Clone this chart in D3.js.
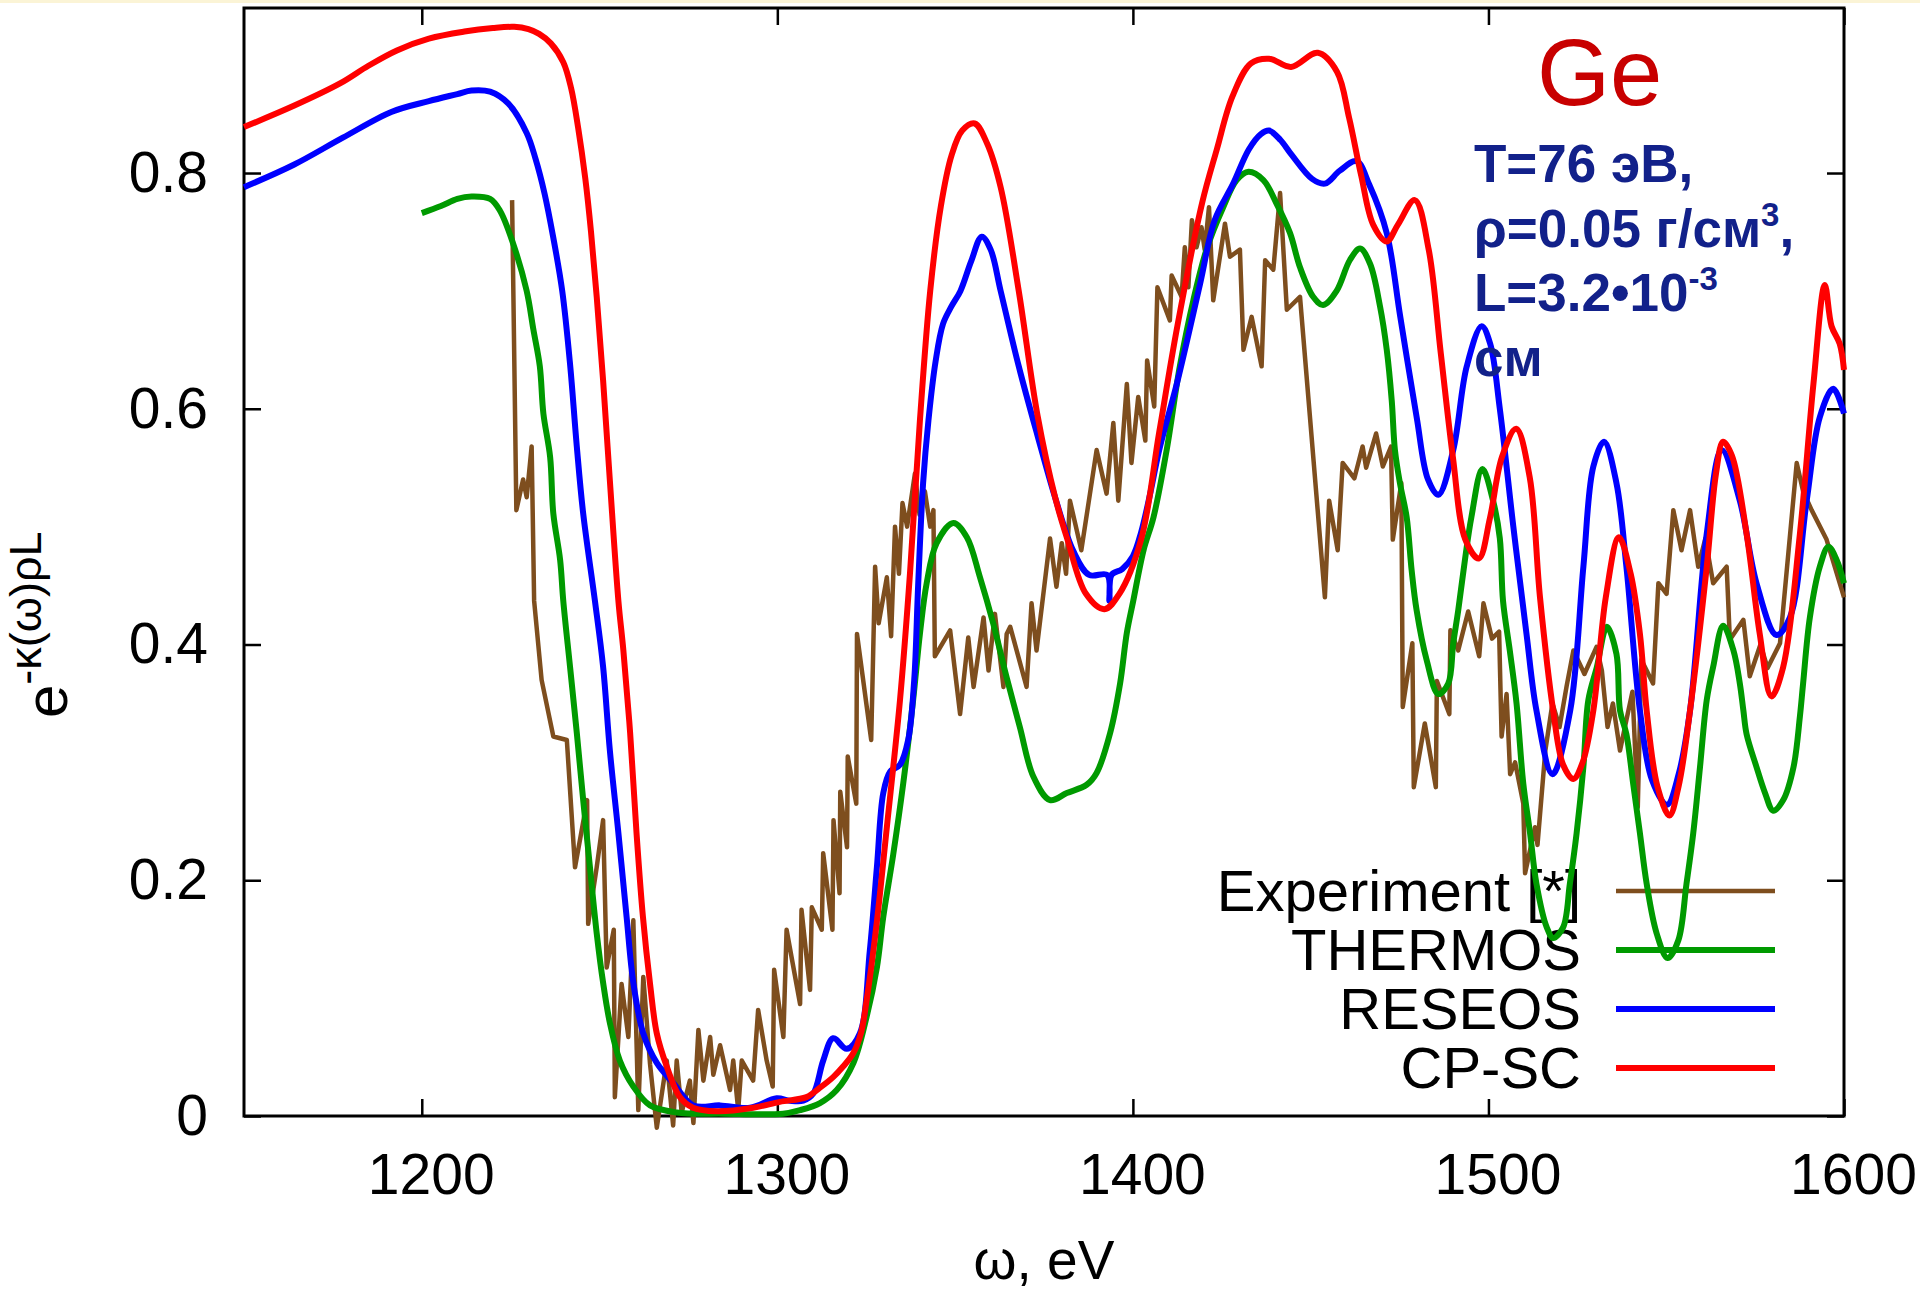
<!DOCTYPE html>
<html lang="ru">
<head>
<meta charset="UTF-8">
<title>Ge: e^-k(w)rhoL</title>
<script src="https://d3js.org/d3.v7.min.js"></script>
<style>
  html, body { margin: 0; background: #fff; }
  svg { display: block; font-family: "Liberation Sans", Arial, sans-serif; }
  .tick line { stroke: #000; stroke-width: 2.5px; }
  .tick text { fill: #000; }
</style>
</head>
<body>
<svg id="chart"></svg>
<script>
// ---- data ----
const xTickValues = [1200, 1300, 1400, 1500, 1600];
const yTickValues = [0, 0.2, 0.4, 0.6, 0.8];
const yTickLabels = ["0", "0.2", "0.4", "0.6", "0.8"];
const legendLabels = ["Experiment [*]", "THERMOS", "RESEOS", "CP-SC"];

const experiment = [[1225.4,0.777],[1226.6,0.514],[1228.5,0.54],[1229.5,0.525],[1230.9,0.568],[1231.6,0.437],[1233.7,0.37],[1237,0.322],[1240.8,0.319],[1243.1,0.211],[1246.5,0.268],[1246.8,0.163],[1249.2,0.211],[1251,0.251],[1252,0.126],[1254,0.158],[1254.3,0.016],[1256.2,0.112],[1258.1,0.067],[1259.5,0.166],[1260.9,0.005],[1262.3,0.118],[1264.2,0.044],[1266.1,-0.01],[1268.9,0.047],[1270.7,-0.008],[1271.7,0.047],[1273.1,0.003],[1275.4,0.03],[1276.4,-0.006],[1277.8,0.073],[1279.2,0.03],[1281.1,0.067],[1282,0.035],[1283.9,0.06],[1286.7,0.022],[1287.6,0.047],[1289,0.005],[1290,0.047],[1293.2,0.03],[1294.6,0.09],[1297,0.047],[1298.7,0.025],[1299.1,0.124],[1301.7,0.067],[1302.6,0.158],[1306.4,0.095],[1306.8,0.175],[1309.2,0.107],[1309.7,0.177],[1312.5,0.158],[1312.9,0.223],[1315.5,0.158],[1315.8,0.251],[1317.5,0.189],[1317.7,0.275],[1319.6,0.228],[1319.8,0.305],[1322.2,0.265],[1322.4,0.409],[1326.4,0.319],[1327.5,0.466],[1328.5,0.418],[1330.8,0.457],[1332,0.407],[1333.1,0.5],[1334.2,0.46],[1335.2,0.52],[1336.5,0.5],[1338.7,0.545],[1340,0.51],[1341.5,0.53],[1343,0.5],[1343.9,0.514],[1344.3,0.39],[1348.6,0.412],[1351.4,0.341],[1353.7,0.406],[1355.2,0.364],[1358,0.423],[1359.4,0.378],[1361.2,0.426],[1363.6,0.364],[1364.5,0.409],[1365.5,0.415],[1370.1,0.364],[1371.5,0.435],[1372.9,0.395],[1376.7,0.49],[1378.5,0.449],[1380,0.486],[1381.2,0.46],[1382.3,0.522],[1385.5,0.48],[1389.8,0.565],[1392.6,0.528],[1394.5,0.588],[1395.9,0.522],[1398.3,0.621],[1399.6,0.554],[1401.5,0.61],[1403.5,0.573],[1404,0.641],[1406,0.602],[1406.9,0.703],[1410.4,0.675],[1410.9,0.713],[1413.7,0.695],[1414.6,0.737],[1415.6,0.703],[1416.6,0.76],[1417.9,0.737],[1419.3,0.754],[1420.2,0.735],[1421.4,0.771],[1422.6,0.692],[1425.9,0.757],[1427.3,0.729],[1430.1,0.735],[1431.1,0.65],[1433.4,0.678],[1436.2,0.636],[1437.2,0.726],[1439.5,0.718],[1441.4,0.783],[1443.3,0.684],[1447,0.695],[1449.8,0.593],[1454,0.44],[1455.2,0.522],[1457.6,0.48],[1459,0.554],[1462.3,0.541],[1464.6,0.568],[1465.6,0.55],[1468.4,0.579],[1470.3,0.551],[1472.6,0.568],[1473.1,0.489],[1475.5,0.537],[1475.9,0.347],[1478.6,0.401],[1479,0.279],[1482.1,0.333],[1485.2,0.279],[1485.5,0.369],[1489,0.341],[1489.3,0.412],[1491.5,0.395],[1494.3,0.428],[1497.4,0.39],[1498.6,0.435],[1501,0.405],[1503,0.411],[1503.7,0.322],[1505.1,0.358],[1506.1,0.29],[1507.5,0.3],[1509.8,0.265],[1510.3,0.206],[1513.1,0.245],[1513.8,0.23],[1516,0.31],[1518,0.35],[1520,0.33],[1522,0.365],[1523.9,0.395],[1527,0.375],[1530.4,0.398],[1531.9,0.378],[1533.5,0.33],[1535,0.35],[1537,0.31],[1538.8,0.336],[1540.5,0.36],[1542,0.262],[1543,0.387],[1546.3,0.367],[1547.8,0.452],[1550.1,0.443],[1552,0.514],[1554.3,0.48],[1556.7,0.514],[1559,0.466],[1561,0.49],[1563.2,0.452],[1567,0.466],[1567.9,0.404],[1571.7,0.421],[1573.5,0.373],[1576.5,0.4],[1578.5,0.38],[1582,0.401],[1586.7,0.554],[1588.5,0.53],[1590.9,0.514],[1595.1,0.489],[1600,0.44]];

const thermos = [[1200,0.766],[1205.4,0.772],[1210,0.778],[1214,0.78],[1219.2,0.778],[1222,0.768],[1225.7,0.74],[1229.5,0.7],[1231.4,0.667],[1233.2,0.636],[1234.2,0.596],[1236.1,0.559],[1237,0.511],[1238.9,0.472],[1239.8,0.437],[1241.7,0.381],[1243.6,0.325],[1245.4,0.268],[1247.3,0.211],[1249.2,0.155],[1251,0.113],[1252.9,0.079],[1255.7,0.047],[1259.5,0.025],[1264.2,0.009],[1271.7,0.003],[1285,0.002],[1301.6,0.002],[1306.4,0.005],[1312,0.011],[1316.7,0.022],[1321.4,0.045],[1325.1,0.084],[1328,0.126],[1329.8,0.169],[1332.6,0.222],[1335.4,0.282],[1338.2,0.353],[1340.1,0.409],[1342,0.452],[1344.8,0.486],[1349.5,0.503],[1353.3,0.491],[1357,0.457],[1360.7,0.418],[1364.5,0.372],[1368.2,0.33],[1372,0.288],[1376.7,0.268],[1381.4,0.274],[1387,0.281],[1389.8,0.291],[1393.6,0.325],[1396.4,0.367],[1398.3,0.41],[1400.1,0.437],[1403,0.48],[1405.8,0.508],[1409.5,0.565],[1413.2,0.636],[1417,0.692],[1420.7,0.735],[1425.4,0.771],[1429.2,0.794],[1432.5,0.801],[1436.7,0.794],[1440.4,0.774],[1444.2,0.749],[1447,0.72],[1450.7,0.695],[1453.5,0.688],[1457.3,0.7],[1461,0.726],[1463.9,0.736],[1466.7,0.723],[1469.5,0.687],[1471.4,0.65],[1472.8,0.607],[1473.7,0.565],[1475.1,0.537],[1477,0.508],[1478.4,0.463],[1479.8,0.429],[1482.6,0.387],[1485.9,0.358],[1488.7,0.367],[1490.1,0.401],[1491.5,0.429],[1493.4,0.472],[1495.2,0.508],[1498.3,0.549],[1501.3,0.522],[1503.2,0.49],[1504.1,0.437],[1506,0.395],[1507.9,0.35],[1509.8,0.282],[1511.7,0.24],[1513.5,0.197],[1516.4,0.16],[1518.2,0.151],[1521,0.16],[1522.9,0.197],[1524.8,0.24],[1526.7,0.296],[1528.1,0.353],[1530.5,0.381],[1533.3,0.415],[1536,0.392],[1537,0.344],[1538.8,0.324],[1540.7,0.282],[1542.6,0.24],[1544.5,0.197],[1547.3,0.155],[1550.4,0.134],[1553.4,0.149],[1555.7,0.197],[1557.6,0.24],[1559.5,0.296],[1561.4,0.353],[1563.2,0.381],[1566,0.416],[1568.9,0.395],[1570.7,0.367],[1571.7,0.344],[1572.6,0.324],[1575.4,0.296],[1577.8,0.274],[1580.1,0.259],[1582.9,0.268],[1585.8,0.296],[1587.6,0.339],[1588.5,0.367],[1590.4,0.423],[1593.2,0.466],[1595.6,0.483],[1597.9,0.472],[1600,0.452]];

const reseos = [[1150,0.788],[1164,0.807],[1177.8,0.83],[1191.6,0.852],[1202,0.861],[1210,0.867],[1214,0.87],[1219.2,0.869],[1224.3,0.859],[1229.5,0.834],[1232,0.812],[1234.5,0.783],[1237,0.745],[1239.5,0.7],[1241.7,0.638],[1243.6,0.568],[1245.4,0.511],[1248.7,0.437],[1251,0.381],[1252.9,0.31],[1255.3,0.24],[1257.6,0.169],[1259.5,0.113],[1262.3,0.07],[1266.1,0.045],[1270.7,0.028],[1276.4,0.009],[1283.9,0.009],[1292.3,0.007],[1299.8,0.015],[1303.5,0.013],[1307.3,0.013],[1310.1,0.019],[1312.9,0.047],[1315.7,0.066],[1319.5,0.057],[1323.2,0.07],[1326,0.14],[1328,0.211],[1329.8,0.274],[1331.7,0.292],[1334.5,0.298],[1336.8,0.319],[1338.5,0.37],[1339.6,0.45],[1341,0.537],[1342.5,0.59],[1344.5,0.64],[1346.6,0.672],[1349,0.687],[1351.5,0.7],[1354.5,0.725],[1357.5,0.746],[1360,0.735],[1362.8,0.7],[1367.9,0.636],[1373.2,0.577],[1378.2,0.524],[1383.3,0.479],[1387.7,0.459],[1392.8,0.459],[1393.4,0.437],[1394,0.459],[1397,0.464],[1400,0.475],[1402.3,0.495],[1405,0.53],[1407.4,0.565],[1412.5,0.623],[1418.9,0.706],[1423,0.76],[1428.2,0.791],[1432.6,0.82],[1436,0.833],[1438.3,0.836],[1441.5,0.828],[1444.5,0.816],[1450.4,0.795],[1454,0.791],[1458.2,0.802],[1462.9,0.81],[1466.5,0.79],[1471.4,0.749],[1475.2,0.678],[1479.8,0.593],[1483,0.54],[1485.9,0.527],[1490.1,0.565],[1493.9,0.636],[1498.1,0.67],[1500.5,0.655],[1503.2,0.6],[1507,0.5],[1510.7,0.409],[1513.5,0.344],[1518,0.29],[1523,0.344],[1526.7,0.466],[1529.5,0.551],[1532.5,0.572],[1536,0.537],[1538.8,0.466],[1542.6,0.344],[1546,0.285],[1550.2,0.264],[1553.5,0.29],[1556.7,0.344],[1561.4,0.494],[1565.6,0.565],[1570.7,0.522],[1575.4,0.452],[1581,0.408],[1584.8,0.423],[1589.5,0.522],[1593.2,0.593],[1597,0.617],[1600,0.596]];

const cpsc = [[1150,0.839],[1164,0.857],[1177,0.876],[1185,0.891],[1193,0.904],[1202,0.914],[1212,0.92],[1220,0.923],[1226,0.924],[1230,0.922],[1233,0.918],[1236.3,0.91],[1239.8,0.894],[1242,0.872],[1244,0.838],[1246,0.795],[1247.6,0.75],[1249.2,0.695],[1251,0.624],[1252.9,0.539],[1255.3,0.437],[1256.7,0.395],[1258.6,0.325],[1260.4,0.24],[1262.2,0.169],[1264.2,0.112],[1266.1,0.07],[1268.9,0.042],[1272.6,0.016],[1276.3,0.007],[1283,0.004],[1293.2,0.007],[1300.7,0.012],[1308.2,0.016],[1312,0.024],[1315.7,0.033],[1318.5,0.042],[1321.3,0.053],[1323.5,0.07],[1325.1,0.098],[1328,0.165],[1330.8,0.245],[1334.5,0.353],[1337.3,0.46],[1340.1,0.59],[1343,0.7],[1346,0.772],[1349,0.815],[1352,0.836],[1355.5,0.842],[1359,0.825],[1362.8,0.788],[1367.9,0.7],[1373.2,0.594],[1378.2,0.524],[1381.6,0.489],[1386.8,0.443],[1392,0.43],[1396.2,0.443],[1402.3,0.489],[1407.4,0.58],[1412.5,0.67],[1419.5,0.775],[1423.6,0.82],[1428,0.865],[1433.2,0.893],[1438.3,0.897],[1444.5,0.89],[1452,0.902],[1457.4,0.886],[1460.8,0.847],[1464.2,0.798],[1467.6,0.756],[1471.4,0.742],[1474.5,0.756],[1479.3,0.777],[1483.2,0.735],[1486.6,0.647],[1490,0.559],[1493.5,0.489],[1497.3,0.473],[1500.4,0.507],[1503.8,0.559],[1507.8,0.583],[1511.6,0.542],[1514.5,0.44],[1518.2,0.344],[1521,0.298],[1523.9,0.286],[1526.5,0.3],[1529.5,0.344],[1533,0.44],[1536.7,0.491],[1540,0.46],[1542.6,0.409],[1544.5,0.344],[1547.5,0.28],[1550.9,0.255],[1553.5,0.28],[1556.7,0.344],[1561.4,0.466],[1564,0.545],[1566,0.572],[1568.5,0.56],[1572.6,0.494],[1576.3,0.409],[1579.6,0.356],[1582.9,0.381],[1587.6,0.494],[1591.4,0.621],[1594.6,0.705],[1596.5,0.67],[1598.8,0.655],[1600,0.633]];

// ---- layout ----
const width = 1920, height = 1291;
const plot = { left: 244, right: 1844, top: 8, bottom: 1116 };

const svg = d3.select("#chart").attr("width", width).attr("height", height);

// thin pale strip along the top edge, as in the source slide
svg.append("rect").attr("x", 0).attr("y", 0).attr("width", width).attr("height", 3).attr("fill", "#fbf4d6");

const x = d3.scaleLinear().domain([1150, 1600]).range([plot.left, plot.right]);
const y = d3.scaleLinear().domain([0, 0.94]).range([plot.bottom, plot.top]);

const tickLen = 17;

// bottom axis with labels
const gx = svg.append("g")
  .attr("transform", `translate(0,${plot.bottom})`)
  .call(d3.axisBottom(x).tickValues(xTickValues).tickSize(-tickLen).tickSizeOuter(0).tickPadding(38).tickFormat(d3.format("d")));
gx.selectAll("text").attr("x", 9).style("font-size", "57px");

// left axis with labels
const gy = svg.append("g")
  .attr("transform", `translate(${plot.left},0)`)
  .call(d3.axisLeft(y).tickValues(yTickValues).tickSize(-tickLen).tickSizeOuter(0).tickPadding(36)
    .tickFormat((d, i) => yTickLabels[i]));
gy.selectAll("text").style("font-size", "57px");

// mirrored ticks on top and right
svg.append("g").attr("transform", `translate(0,${plot.top})`)
  .call(d3.axisTop(x).tickValues(xTickValues).tickSize(-tickLen).tickSizeOuter(0).tickFormat(""));
svg.append("g").attr("transform", `translate(${plot.right},0)`)
  .call(d3.axisRight(y).tickValues(yTickValues).tickSize(-tickLen).tickSizeOuter(0).tickFormat(""));

svg.selectAll(".domain").remove();

// frame
svg.append("rect")
  .attr("x", plot.left).attr("y", plot.top)
  .attr("width", plot.right - plot.left).attr("height", plot.bottom - plot.top)
  .attr("fill", "none").attr("stroke", "#000").attr("stroke-width", 3);

// axis titles
svg.append("text")
  .attr("x", 1044).attr("y", 1279)
  .attr("text-anchor", "middle")
  .style("font-size", "55px")
  .text("ω, eV");

const ylab = svg.append("text")
  .attr("transform", "translate(67,718) rotate(-90)")
  .style("font-size", "60px");
ylab.append("tspan").text("e");
ylab.append("tspan").attr("dy", -26).style("font-size", "45px").text("-κ(ω)ρL");

// series
const series = [
  { name: legendLabels[0], data: experiment, color: "#7e4e1e", width: 4.5, smooth: false },
  { name: legendLabels[1], data: thermos, color: "#009a00", width: 6, smooth: true },
  { name: legendLabels[2], data: reseos, color: "#0000ff", width: 6, smooth: true },
  { name: legendLabels[3], data: cpsc, color: "#ff0000", width: 6, smooth: true }
];

const legendTextX = 1581, legendLineX0 = 1616, legendLineX1 = 1775;
const legendBase = 911, legendStep = 59;

series.forEach((s, i) => {
  // key entry first, then the curve (curves pass over the key text)
  const by = legendBase + i * legendStep;
  svg.append("text")
    .attr("x", legendTextX).attr("y", by)
    .attr("text-anchor", "end")
    .style("font-size", "58px")
    .text(s.name);
  svg.append("line")
    .attr("x1", legendLineX0).attr("x2", legendLineX1)
    .attr("y1", by - 20).attr("y2", by - 20)
    .attr("stroke", s.color).attr("stroke-width", s.width);

  const line = d3.line()
    .x(d => x(d[0]))
    .y(d => y(d[1]))
    .curve(s.smooth ? d3.curveCatmullRom.alpha(0.5) : d3.curveLinear);

  svg.append("path")
    .datum(s.data)
    .attr("d", line)
    .attr("fill", "none")
    .attr("stroke", s.color)
    .attr("stroke-width", s.width)
    .attr("stroke-linejoin", "round");
});

// annotations
svg.append("text")
  .attr("x", 1537).attr("y", 105)
  .style("font-size", "94px")
  .attr("fill", "#c80000")
  .text("Ge");

const noteLines = [
  [["T=76 эВ,", false]],
  [["ρ=0.05 г/см", false], ["3", true], [",", false]],
  [["L=3.2•10", false], ["-3", true]],
  [["см", false]]
];
const noteX = 1474, noteY0 = 182, noteStep = 64.5;

noteLines.forEach((parts, i) => {
  const t = svg.append("text")
    .attr("x", noteX).attr("y", noteY0 + i * noteStep)
    .attr("fill", "#12218a")
    .style("font-weight", "bold")
    .style("font-size", "53px");
  let raised = false;
  parts.forEach(([str, sup]) => {
    const ts = t.append("tspan").text(str);
    if (sup && !raised) { ts.attr("dy", -21).style("font-size", "33px"); raised = true; }
    else if (!sup && raised) { ts.attr("dy", 21).style("font-size", "53px"); raised = false; }
  });
});
</script>
</body>
</html>
